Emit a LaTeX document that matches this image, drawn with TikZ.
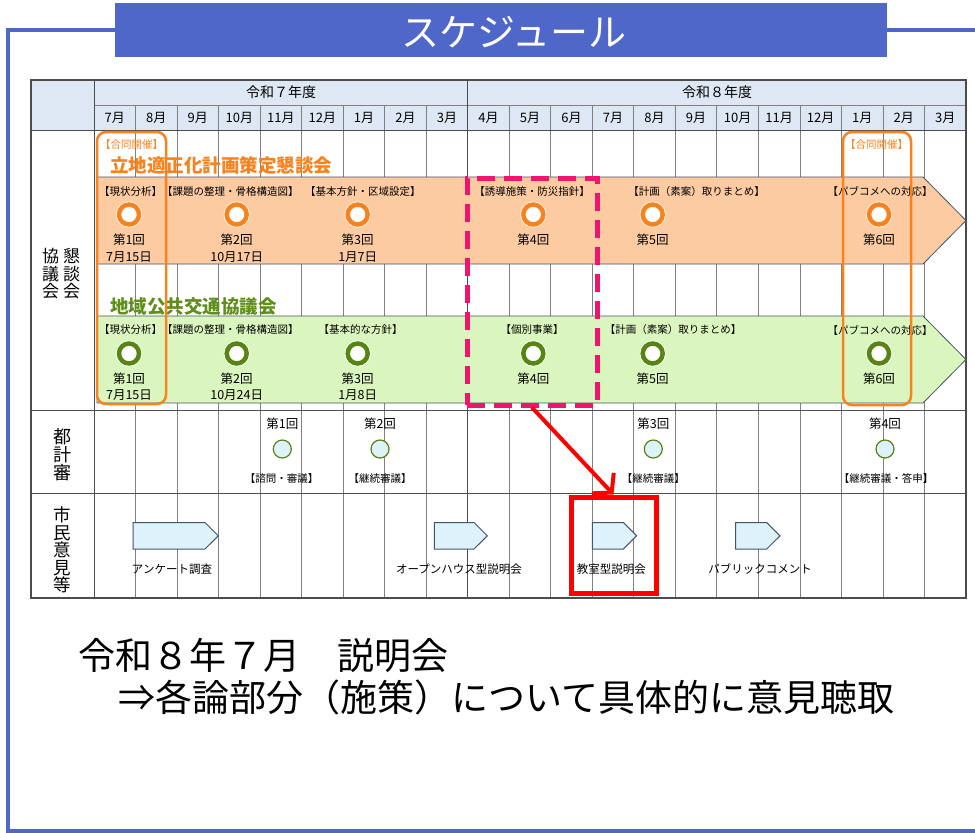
\documentclass[tikz,border=0pt]{standalone}
\usepackage{fontspec}
\setmainfont{Noto Sans CJK JP}
\usepackage{tikz}
\usetikzlibrary{positioning, arrows.meta}

\definecolor{frameblue}{RGB}{79,103,200}
\definecolor{headblue}{RGB}{221,232,244}
\definecolor{peach}{RGB}{252,203,162}
\definecolor{leaf}{RGB}{218,246,190}
\definecolor{kanorange}{RGB}{247,130,30}
\definecolor{kyogreen}{RGB}{96,142,26}
\definecolor{ringgreen}{RGB}{88,132,20}
\definecolor{slate}{RGB}{68,84,106}
\definecolor{icefill}{RGB}{221,242,250}
\definecolor{hotpink}{RGB}{240,20,110}
\definecolor{gridgray}{RGB}{128,128,128}

\newcommand{\fsz}[2]{\fontsize{#1}{#2}\selectfont}

\tikzstyle{banner} = [text=white, font=\fsz{38}{38}, inner sep=0pt]
\tikzstyle{gridline} = [draw=gridgray, line width=0.8pt]
\tikzstyle{rule} = [draw=black!70, line width=1pt]
\tikzstyle{yearhead} = [font=\fsz{14}{14}, inner sep=0pt]
\tikzstyle{month} = [font=\fsz{13}{13}, inner sep=0pt]
\tikzstyle{side} = [align=center, font=\fsz{17}{17.5}, inner sep=0pt]
\tikzstyle{tag} = [font=\fsz{10.5}{10.5}, inner sep=0pt]
\tikzstyle{kai} = [align=center, font=\fsz{12.5}{16.7}, inner sep=0pt]
\tikzstyle{band} = [draw=slate, line width=0.8pt]
\tikzstyle{orangering} = [circle, draw=kanorange, fill=white, line width=4.5pt, minimum size=20pt, inner sep=0pt, preaction={draw=white, line width=6pt}]
\tikzstyle{greenring} = [orangering, draw=ringgreen]
\tikzstyle{citydot} = [circle, draw=ringgreen, fill=icefill, line width=1.2pt, minimum size=18pt, inner sep=0pt]
\tikzstyle{flowbox} = [draw=slate, fill=icefill, line width=1pt]
\tikzstyle{flowtag} = [font=\fsz{11.5}{11.5}, inner sep=0pt]
\tikzstyle{joint} = [draw=kanorange, line width=2.5pt, rounded corners=9pt, inner sep=0pt]
\tikzstyle{jointtag} = [text=kanorange, font=\fsz{10.5}{10.5}, inner sep=0pt]
\tikzstyle{focus} = [draw=hotpink, line width=5pt, dash pattern=on 18pt off 9pt, inner sep=0pt]
\tikzstyle{pick} = [draw=red, line width=5pt, inner sep=0pt]
\tikzstyle{pointer} = [draw=red, line width=4pt, -{Straight Barb[length=13pt, width=30pt]}]
\tikzstyle{note} = [font=\fsz{37}{37}, inner sep=0pt]

\begin{document}
\begin{tikzpicture}[x=1pt, y=-1pt]
    \useasboundingbox (0,0) rectangle (975,833);
    \fill[white] (0,0) rectangle (975,833);
    % Frame and banner
    \draw[frameblue, line width=4pt] (975,30) -- (8,30) -- (8,831) -- (975,831);
    \fill[frameblue] (115,3) rectangle (887,57);
    \node[banner] (banner) at (514,32) {スケジュール};

    % Table grid
    \fill[headblue] (31,80) rectangle (966,130);
    \foreach \i in {1,...,20}
        \draw[gridline] ({94+\i*41.524},105) -- ({94+\i*41.524},598);
    \draw[gridline] (94,105) -- (966,105);
    \draw[rule] (467.7,80) -- (467.7,598);
    \draw[rule] (94,80) -- (94,598);
    \draw[rule] (31,130) -- (966,130);
    \draw[rule] (31,410) -- (966,410);
    \draw[rule] (31,493) -- (966,493);
    \draw[rule, line width=1.5pt] (31,80) rectangle (966,598);

    % Head labels
    \node[yearhead] (r7) at (281,92.5) {令和７年度};
    \node[yearhead] (r8) at (717,92.5) {令和８年度};
    \foreach \m [count=\i from 0] in {7,8,9,10,11,12,1,2,3,4,5,6,7,8,9,10,11,12,1,2,3}
        \node[month] (m\i) at ({94+(\i+0.5)*41.524},117.5) {{\m}月};

    % Row labels
    \node[side] (kyogi) at (50.7,274) {協\\議\\会};
    \node[side] (kondan) at (71.7,274) {懇\\談\\会};
    \node[side, font=\fsz{18}{18}] (toshi) at (62.3,455) {都\\計\\審};
    \node[side, font=\fsz{17.5}{17.5}] (shimin) at (62,550) {市\\民\\意\\見\\等};

    % Council bands
    \draw[band, fill=peach] (97,177) -- (923,177) -- (966,220.5) -- (923,264) -- (97,264) -- cycle;
    \draw[band, fill=leaf] (97,316) -- (923,316) -- (966,359.5) -- (923,403) -- (97,403) -- cycle;
    \node[text=kanorange, font=\fsz{18.5}{18.5}\bfseries, inner sep=0pt, anchor=west] (kan) at (110,165) {立地適正化計画策定懇談会};
    \node[text=kyogreen, font=\fsz{18.5}{18.5}\bfseries, inner sep=0pt, anchor=west] (kyo) at (110,306.5) {地域公共交通協議会};

    % Konsankai meetings
    \node[tag, anchor=west] (ka) at (99,191.5) {【現状分析】【課題の整理・骨格構造図】};
    \node[tag, anchor=west] (kb) at (305,191.5) {【基本方針・区域設定】};
    \node[tag] (kc) at (532,191.5) {【誘導施策・防災指針】};
    \node[tag] (kd) at (696.5,191.5) {【計画（素案）取りまとめ】};
    \node[tag] (ke) at (880,191.5) {【パブコメへの対応】};
    \node[orangering] (o1) at (129,214.5) {};
    \node[orangering] (o2) at (236.7,214.5) {};
    \node[orangering] (o3) at (357.7,214.5) {};
    \node[orangering] (o4) at (533.3,214.5) {};
    \node[orangering] (o5) at (652.7,214.5) {};
    \node[orangering] (o6) at (879,214.5) {};
    \node[kai] (o1t) at (129,248.3) {第1回\\7月15日};
    \node[kai] (o2t) at (236.7,248.3) {第2回\\10月17日};
    \node[kai] (o3t) at (357.7,248.3) {第3回\\1月7日};
    \node[kai] (o4t) at (533.3,240) {第4回};
    \node[kai] (o5t) at (652.7,240) {第5回};
    \node[kai] (o6t) at (879,240) {第6回};

    % Kyogikai meetings
    \node[tag, anchor=west] (ga) at (99,330) {【現状分析】【課題の整理・骨格構造図】};
    \node[tag] (gb) at (360.5,330) {【基本的な方針】};
    \node[tag] (gc) at (532,330) {【個別事業】};
    \node[tag] (gd) at (673,330) {【計画（素案）取りまとめ】};
    \node[tag] (ge) at (880,330) {【パブコメへの対応】};
    \node[greenring] (g1) at (129,353.5) {};
    \node[greenring] (g2) at (236.7,353.5) {};
    \node[greenring] (g3) at (357.7,353.5) {};
    \node[greenring] (g4) at (533.3,353.5) {};
    \node[greenring] (g5) at (652.7,353.5) {};
    \node[greenring] (g6) at (879,353.5) {};
    \node[kai] (g1t) at (129,386.7) {第1回\\7月15日};
    \node[kai] (g2t) at (236.7,386.7) {第2回\\10月24日};
    \node[kai] (g3t) at (357.7,386.7) {第3回\\1月8日};
    \node[kai] (g4t) at (533.3,378.3) {第4回};
    \node[kai] (g5t) at (652.7,378.3) {第5回};
    \node[kai] (g6t) at (879,378.3) {第6回};

    % Joint sessions
    \node[joint, minimum width=69pt, minimum height=272pt] (jointA) at (131.5,268) {};
    \node[joint, minimum width=68pt, minimum height=273pt] (jointB) at (877,268.5) {};
    \node[jointtag] (jointAt) at (131.5,145) {【合同開催】};
    \node[jointtag] (jointBt) at (876.5,145) {【合同開催】};

    % Toshikei shingikai
    \node[citydot] (c1) at (282.3,449) {};
    \node[citydot] (c2) at (380,449) {};
    \node[citydot] (c3) at (653.3,449) {};
    \node[citydot] (c4) at (885,449) {};
    \node[kai] at (282.3,424) {第1回};
    \node[kai] at (380,424) {第2回};
    \node[kai] at (653.3,424) {第3回};
    \node[kai] at (885,424) {第4回};
    \node[tag] (c1t) at (281.7,478.3) {【諮問・審議】};
    \node[tag] (c2t) at (380,478.3) {【継続審議】};
    \node[tag] (c3t) at (653.3,478.3) {【継続審議】};
    \node[tag] (c4t) at (886,478.3) {【継続審議・答申】};

    % Citizen opinions
    \draw[flowbox] (133,522.5) -- (205,522.5) -- (218.3,535.8) -- (205,549) -- (133,549) -- cycle;
    \draw[flowbox] (434.3,522.5) -- (474,522.5) -- (487.3,535.8) -- (474,549) -- (434.3,549) -- cycle;
    \draw[flowbox] (592.3,522.5) -- (623.3,522.5) -- (636.6,535.8) -- (623.3,549) -- (592.3,549) -- cycle;
    \draw[flowbox] (735.7,522.5) -- (766.7,522.5) -- (780,535.8) -- (766.7,549) -- (735.7,549) -- cycle;
    \node[flowtag] (fa) at (172,569.3) {アンケート調査};
    \node[flowtag] (fb) at (459,569.3) {オープンハウス型説明会};
    \node[flowtag] (fc) at (611.3,569.3) {教室型説明会};
    \node[flowtag] (fd) at (760,569.3) {パブリックコメント};

    % Highlight
    \node[focus, minimum width=130pt, minimum height=227pt] (focus) at (532,291.5) {};
    \node[pick, minimum width=85pt, minimum height=96pt] (pick) at (613.5,545) {};
    \path [pointer] (focus.south) -- (pick.north);

    % Note
    \node[note, anchor=west] (note1) at (78,655) {令和８年７月　説明会};
    \node[note, anchor=west] (note2) at (118,697) {⇒各論部分（施策）について具体的に意見聴取};
\end{tikzpicture}
\end{document}
